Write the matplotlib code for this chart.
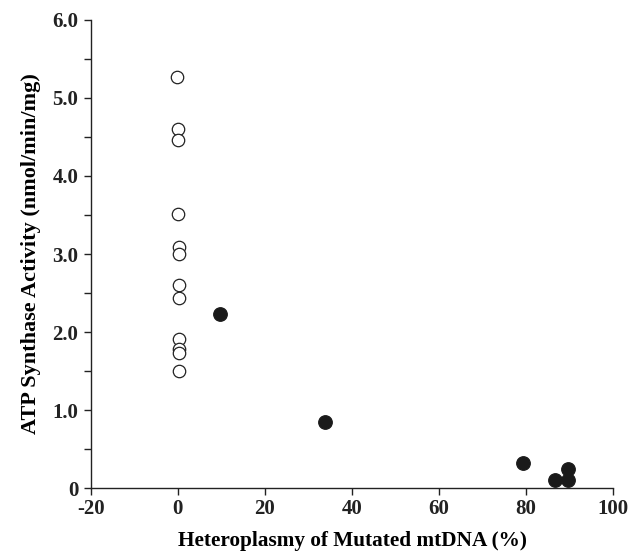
import matplotlib.pyplot as plt
from matplotlib.ticker import MultipleLocator

# =========================================
# DATOS
# =========================================

open_x = [-0.2, 0.1, 0.1, 0.1, 0.2, 0.2, 0.3, 0.2, 0.3, 0.3, 0.3, 0.3]
open_y = [5.27, 4.60, 4.46, 3.51, 3.09, 3.00, 2.60, 2.44, 1.91, 1.78, 1.73, 1.50]

filled_x = [9.7, 33.8, 79.3, 86.7, 89.7, 89.7]
filled_y = [2.23, 0.85, 0.32, 0.10, 0.10, 0.24]

x_ticks = [-20, 0, 20, 40, 60, 80, 100]
y_ticks = [0, 1, 2, 3, 4, 5, 6]
y_tick_labels = ["0", "1.0", "2.0", "3.0", "4.0", "5.0", "6.0"]

# =========================================
# GRAFICO
# =========================================

plt.rcParams["font.family"] = "Liberation Serif"
plt.rcParams["font.weight"] = "bold"
plt.rcParams["axes.unicode_minus"] = False

fig = plt.figure(figsize=(6.4, 5.54), dpi=100)
ax = fig.add_axes([0.142, 0.119, 0.816, 0.845])

ax.scatter(open_x, open_y, s=80, facecolors="white", edgecolors="#222222",
           linewidths=0.9, zorder=3, clip_on=False)
ax.scatter(filled_x, filled_y, s=95, facecolors="#1a1a1a", edgecolors="#1a1a1a",
           linewidths=0.9, zorder=3, clip_on=False)

ax.set_xlim(-20, 100)
ax.set_ylim(0, 6)
ax.set_xticks(x_ticks)
ax.set_yticks(y_ticks)
ax.set_yticklabels(y_tick_labels)
ax.yaxis.set_minor_locator(MultipleLocator(0.5))

ax.spines["top"].set_visible(False)
ax.spines["right"].set_visible(False)
for s in ["left", "bottom"]:
    ax.spines[s].set_linewidth(1.0)
    ax.spines[s].set_color("#222222")

ax.tick_params(axis="both", which="both", direction="out", length=5,
               width=1.0, colors="#222222", labelsize=15)
ax.tick_params(axis="y", which="major", pad=4)
ax.tick_params(axis="x", which="major", pad=3)

ax.set_xlabel("Heteroplasmy of Mutated mtDNA (%)", fontsize=15.3,
              fontweight="bold", va="center")
ax.xaxis.set_label_coords(0.5, -0.113)
ax.set_ylabel("ATP Synthase Activity (nmol/min/mg)", fontsize=16,
              fontweight="bold", va="center")
ax.yaxis.set_label_coords(-0.115, 0.5)

plt.savefig("out.png", dpi=100)
